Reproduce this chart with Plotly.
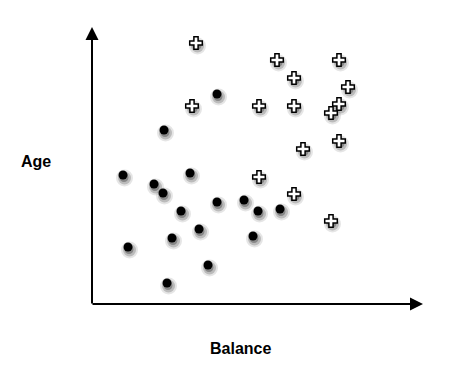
import plotly.graph_objects as go

# Data (in chart units)
cross_x = [104, 185, 247, 202, 256, 100, 167, 202, 247, 239, 247, 211, 167, 202, 239]
cross_y = [261, 244, 244, 226, 217, 198, 198, 198, 200, 191, 163, 155, 127, 110, 83]
dot_x = [125, 72, 31, 98, 62, 71, 89, 125, 152, 166, 188, 107, 80, 161, 36, 116, 75]
dot_y = [210, 174, 129, 131, 120, 111, 93, 102, 104, 93, 95, 75, 66, 68, 57, 39, 21]

X_MAX = 331
Y_MAX = 277

fig = go.Figure()

# soft shadows
for dx, dy, sz, op in [(1.5, -3, 17, 0.10), (1.5, -3, 13, 0.18), (1, -2.5, 9, 0.28)]:
    fig.add_trace(go.Scatter(
        x=[v + dx for v in dot_x + cross_x], y=[v + dy for v in dot_y + cross_y],
        mode="markers",
        marker=dict(color="rgba(0,0,0,%s)" % op, size=sz, line=dict(width=0)),
        hoverinfo="skip", showlegend=False))

fig.add_trace(go.Scatter(
    x=dot_x, y=dot_y, mode="markers",
    marker=dict(symbol="circle", color="black", size=9, line=dict(width=0)),
    showlegend=False, name="dots"))

fig.add_trace(go.Scatter(
    x=cross_x, y=cross_y, mode="markers",
    marker=dict(symbol="cross", color="white", size=10.5, line=dict(color="black", width=1.5)),
    showlegend=False, name="crosses"))

# axes with arrows
fig.add_annotation(x=X_MAX, y=0, ax=-1, ay=0, xref="x", yref="y", axref="x", ayref="y",
                   showarrow=True, arrowhead=2, arrowsize=1.3, arrowwidth=2,
                   arrowcolor="black", text="")
fig.add_annotation(x=0, y=Y_MAX, ax=0, ay=-1, xref="x", yref="y", axref="x", ayref="y",
                   showarrow=True, arrowhead=2, arrowsize=1.3, arrowwidth=2,
                   arrowcolor="black", text="")

fig.add_annotation(x=-0.169, y=0.516, xref="paper", yref="paper", text="<b>Age</b>",
                   showarrow=False, xanchor="center", yanchor="middle",
                   font=dict(family="Liberation Sans, Arial", size=16, color="#000"))
fig.add_annotation(x=0.450, y=-0.162, xref="paper", yref="paper", text="<b>Balance</b>",
                   showarrow=False, xanchor="center", yanchor="middle",
                   font=dict(family="Liberation Sans, Arial", size=16, color="#000"))

fig.update_xaxes(range=[0, X_MAX], visible=False, fixedrange=True)
fig.update_yaxes(range=[0, Y_MAX], visible=False, fixedrange=True)
fig.update_layout(width=450, height=371, margin=dict(l=92, r=27, t=27, b=67),
                  paper_bgcolor="white", plot_bgcolor="white")

fig.write_html("out.html")
